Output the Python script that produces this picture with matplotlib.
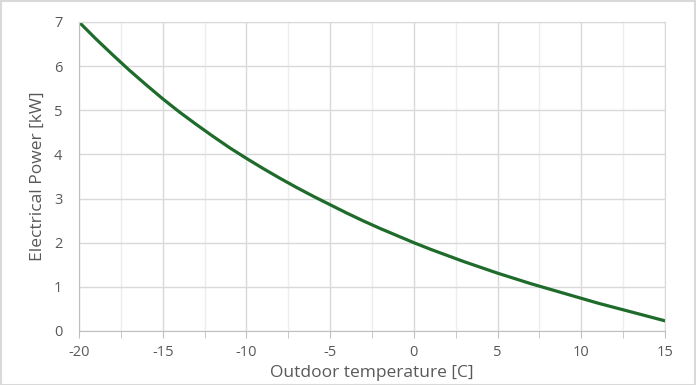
import matplotlib
matplotlib.use("Agg")
import matplotlib.pyplot as plt
from matplotlib.patches import Rectangle
from matplotlib.ticker import MultipleLocator

# Outdoor temperature [C] vs electrical power [kW]
temps = [-20, -19, -18, -17, -16, -15, -14, -13, -12, -11, -10, -9, -8, -7, -6, -5,
         -4, -3, -2, -1, 0, 1, 2, 3, 4, 5, 6, 7, 8, 9, 10, 11, 12, 13, 14, 15]
power = [7.0, 6.62, 6.26, 5.91, 5.58, 5.26, 4.96, 4.68, 4.41, 4.15, 3.91, 3.68, 3.46,
         3.25, 3.05, 2.86, 2.67, 2.49, 2.32, 2.16, 2.0, 1.85, 1.71, 1.57, 1.44, 1.31,
         1.19, 1.07, 0.96, 0.85, 0.74, 0.63, 0.53, 0.43, 0.33, 0.23]

plt.rcParams['font.family'] = ['Open Sans', 'DejaVu Sans']
plt.rcParams['axes.unicode_minus'] = False

fig = plt.figure(figsize=(6.96, 3.85), dpi=100)
ax = fig.add_axes([0.1135, 0.1403, 0.842, 0.8026])

ax.plot(temps, power, color='#1e6b2b', linewidth=2.3)

ax.set_xlim(-20, 15)
ax.set_ylim(0, 7)
ax.xaxis.set_major_locator(MultipleLocator(5))
ax.xaxis.set_minor_locator(MultipleLocator(2.5))
ax.yaxis.set_major_locator(MultipleLocator(1))

ax.grid(which='major', color='#d9d9d9', linewidth=1)
ax.grid(which='minor', axis='x', color='#ededed', linewidth=1)
ax.set_axisbelow(True)

for s in ['top', 'right']:
    ax.spines[s].set_color('#d9d9d9')
for s in ['left', 'bottom']:
    ax.spines[s].set_color('#bfbfbf')

ax.tick_params(axis='x', which='both', length=5, color='#bfbfbf', colors='#595959',
               labelsize=10.5, pad=5)
ax.tick_params(axis='y', length=0, colors='#595959', labelsize=10.5, pad=12)

ax.set_ylabel('Electrical Power [kW]', color='#595959', fontsize=12.5, labelpad=6)
ax.set_xlabel('Outdoor temperature [C]', color='#595959', fontsize=12.5, labelpad=4)

fig.patches.append(Rectangle((0.001, 0.001), 0.997, 0.996, transform=fig.transFigure,
                             fill=False, edgecolor='#d9d9d9', linewidth=1.5))

fig.savefig('out.png', dpi=100)
